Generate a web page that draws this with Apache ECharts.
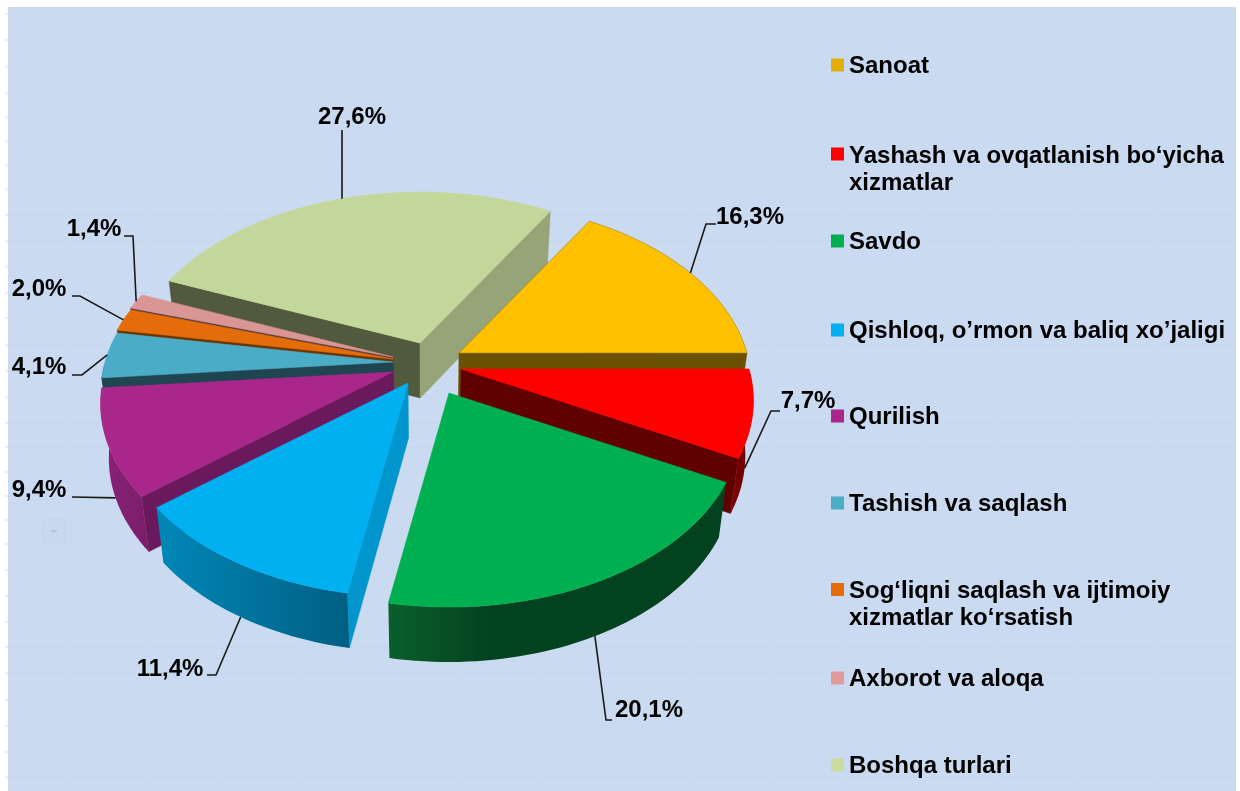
<!DOCTYPE html>
<html>
<head>
<meta charset="utf-8">
<title>Pie</title>
<script src="https://cdn.jsdelivr.net/npm/echarts@6/dist/echarts.min.js"></script>
<style>
  html, body { margin: 0; padding: 0; background: #fff; }
  #chart { width: 1240px; height: 791px; filter: blur(0.45px); }
</style>
</head>
<body>
<div id="chart"></div>
<script>
// data
var names = [
  'Sanoat',
  'Yashash va ovqatlanish bo‘yicha\nxizmatlar',
  'Savdo',
  'Qishloq, o’rmon va baliq xo’jaligi',
  'Qurilish',
  'Tashish va saqlash',
  'Sog‘liqni saqlash va ijtimoiy\nxizmatlar ko‘rsatish',
  'Axborot va aloqa',
  'Boshqa turlari'
];
var shares = [16.3, 7.7, 20.1, 11.4, 9.4, 4.1, 2.0, 1.4, 27.6];

// styling, same order as names
var topColors = ['#ffc000', '#ff0000', '#00b050', '#00b0f0', '#a9268b', '#4bacc8', '#e46c0a', '#d99694', '#c4d79b'];
var startFace = [null, null, null, '#0095cc', '#6a1a5c', '#1e4550', '#6b3500', '#5d3d3c', '#525a3d'];
var endFace = ['#6b5000', '#600000', null, null, null, null, null, null, '#96a478'];
var wallLeft = ['#6b5000', '#7a0000', '#0a5f2c', '#0088b8', '#8a2278', '#1e4550', '#6b3500', '#5d3d3c', '#525a3d'];
var wallRight = ['#6b5000', '#6a0000', '#03421f', '#005f82', '#7a1d69', '#1e4550', '#6b3500', '#5d3d3c', '#525a3d'];
var wallFade = [1, 1, 0.3, 1, 1, 1, 1, 1, 1];
var legendColors = ['#e3ad0c', '#ff0000', '#00b050', '#00b0f0', '#a9278c', '#4bacc6', '#e46c0a', '#e09a9a', '#c9dc9b'];

// layout of the exploded slices
var apex = [[459, 353], [461, 369], [449, 393], [408, 383], [393, 372], [393, 362], [393, 359], [393, 357], [420, 343]];
var labelPos = [[750, 217], [808, 401], [649, 710], [170, 669], [39, 490], [39, 367], [39, 289], [94, 229], [352, 117]];
var leaderBend = [
  [[706, 224], [716, 224]],
  [[771, 411], [780, 411]],
  [[606, 720], [612, 720]],
  [[216, 675], [207, 675]],
  [[72, 497]],
  [[82, 375], [72, 375]],
  [[80, 296], [72, 296]],
  [[133, 236], [124, 236]],
  [[342, 130]]
];
var legendCenter = [66, 169.5, 242, 331, 417, 504, 605, 679, 766];
var drawOrder = [8, 0, 7, 6, 5, 4, 1, 3, 2];

var startAngle = 31.3, radiusX = 288, radiusY = 177, persp = 0.173, depth = 55;
var vanishX = 430, vanishPull = 0.025;
var gridY = [14, 40, 67, 93, 117, 141, 165, 189, 215, 241, 267, 293, 318, 345, 371, 397, 423, 447, 472, 496, 520, 544, 570, 596, 622, 647, 673, 700, 726, 752, 777];
var gridX = [68, 145, 222, 299, 376, 463, 539, 616, 693, 770, 845, 923, 999, 1077, 1153];

// ground plane of the pie seen in perspective, angle clockwise from the back
function project(origin, deg) {
  var a = deg * Math.PI / 180;
  var u = Math.sin(a), v = -Math.cos(a);
  var s = 1 / (1 - persp * v);
  return [origin[0] + radiusX * u * s, origin[1] + radiusY * v * s];
}
// same point on the underside of the slice
function down(p) {
  return [p[0] + (vanishX - p[0]) * vanishPull, p[1] + depth];
}

function renderSlice(params, api) {
  var i = api.value(2);
  var from = startAngle + api.value(1) * 3.6;
  var to = from + api.value(0) * 3.6;
  var o = apex[i];
  var arc = [], frontArc = [];
  var n = Math.ceil((to - from) / 1.5);
  for (var k = 0; k <= n; k++) {
    var deg = from + (to - from) * k / n;
    var p = project(o, deg);
    arc.push(p);
    if (Math.cos(deg * Math.PI / 180) < 0) frontArc.push(p);
  }
  var first = arc[0], last = arc[arc.length - 1];
  var children = [];

  function face(edge, color) {
    if (!color) return;
    children.push({
      type: 'polygon',
      shape: { points: [o, edge, down(edge), down(o)] },
      style: { fill: color, stroke: color, lineWidth: 0.5 },
      z2: 1
    });
  }
  face(first, startFace[i]);
  face(last, endFace[i]);

  // outer wall, only the part that faces us
  if (frontArc.length > 1) {
    children.push({
      type: 'polygon',
      shape: { points: frontArc.concat(frontArc.map(down).reverse()) },
      style: {
        fill: {
          type: 'linear', x: 0, y: 0, x2: 1, y2: 0,
          colorStops: [
            { offset: 0, color: wallLeft[i] },
            { offset: wallFade[i], color: wallRight[i] },
            { offset: 1, color: wallRight[i] }
          ]
        }
      },
      z2: 2
    });
  }

  children.push({
    type: 'polygon',
    shape: { points: [o].concat(arc) },
    style: { fill: topColors[i], stroke: i === 0 ? '#a88400' : topColors[i], lineWidth: 0.6 },
    z2: 3
  });

  // leader from the middle of the outer edge, or its wall when it faces us
  var mid = (from + to) / 2;
  var anchor = project(o, mid);
  if (-Math.cos(mid * Math.PI / 180) > 0.1) anchor = down(anchor);
  children.push({
    type: 'polyline',
    shape: { points: [anchor].concat(leaderBend[i]) },
    style: { fill: null, stroke: '#1a1a1a', lineWidth: 1.6 },
    z2: 10
  });
  children.push({
    type: 'text',
    style: {
      text: api.value(0).toFixed(1).replace('.', ',') + '%',
      x: labelPos[i][0],
      y: labelPos[i][1],
      align: 'center',
      verticalAlign: 'middle',
      fill: '#000',
      font: 'bold 24px "Liberation Sans", Arial, sans-serif'
    },
    z2: 11
  });
  return { type: 'group', children: children };
}

var offsets = [];
var sum = 0;
shares.forEach(function (v) { offsets.push(sum); sum += v; });

var series = drawOrder.map(function (i) {
  return {
    name: names[i],
    type: 'custom',
    coordinateSystem: 'none',
    silent: true,
    itemStyle: { color: legendColors[i] },
    renderItem: renderSlice,
    data: [[shares[i], offsets[i], i]]
  };
});

// one legend per entry because the spacing in the picture is uneven
var legends = names.map(function (name, i) {
  var twoLines = name.indexOf('\n') >= 0;
  return {
    left: 831,
    top: legendCenter[i] - (twoLines ? 27 : 13.5),
    padding: 0,
    itemGap: 6,
    itemWidth: 13,
    itemHeight: twoLines ? 54 : 27,
    selectedMode: false,
    textStyle: {
      color: '#000',
      fontFamily: '"Liberation Sans", Arial, sans-serif',
      fontWeight: 'bold',
      fontSize: 24,
      lineHeight: 27
    },
    data: [{
      name: name,
      icon: twoLines
        ? 'path://M0 0L0 0M0 5H13V18H0ZM0 54L0 54'
        : 'path://M0 0L0 0M0 6H13V19H0ZM0 27L0 27',
      itemStyle: { color: legendColors[i] }
    }]
  };
});

// sheet background with its faint cells
var graphics = [{
  type: 'rect',
  shape: { x: 8, y: 7, width: 1228, height: 784 },
  style: { fill: '#cadbf1' }
}];
gridY.forEach(function (y) {
  graphics.push({ type: 'line', shape: { x1: 8, y1: y, x2: 1236, y2: y }, style: { stroke: '#c5d6ec', lineWidth: 1 } });
  graphics.push({ type: 'line', shape: { x1: 5, y1: y, x2: 8, y2: y }, style: { stroke: '#dcdcdc', lineWidth: 1 } });
});
gridX.forEach(function (x) {
  graphics.push({ type: 'line', shape: { x1: x, y1: 7, x2: x, y2: 791 }, style: { stroke: '#c7d8ee', lineWidth: 1 } });
});
graphics.push({
  type: 'rect',
  shape: { x: 43, y: 520, width: 22, height: 22, r: 2 },
  style: { fill: '#c8d9ef', stroke: '#c2d3e9', lineWidth: 1 }
});
graphics.push({
  type: 'polygon',
  shape: { points: [[50, 530], [58, 530], [54, 533]] },
  style: { fill: '#b0c2da' }
});

var chart = echarts.init(document.getElementById('chart'));
chart.setOption({
  animation: false,
  backgroundColor: '#fff',
  legend: legends,
  graphic: { elements: graphics },
  series: series
});
</script>
</body>
</html>
